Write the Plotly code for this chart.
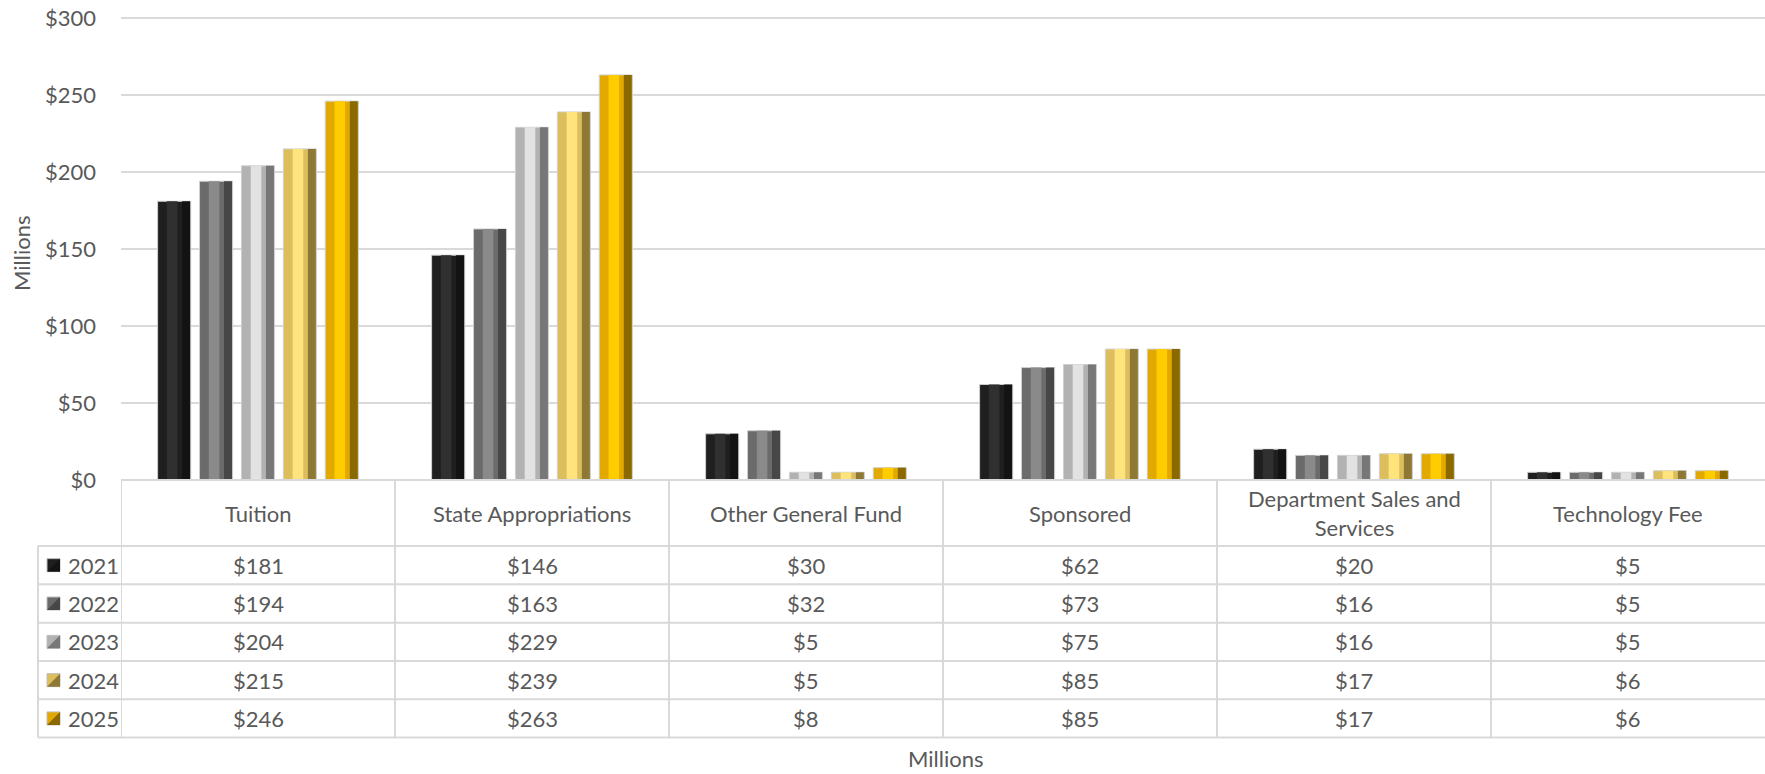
import plotly.graph_objects as go

# ---------------- data ----------------
categories = ["Tuition", "State Appropriations", "Other General Fund",
              "Sponsored", "Department Sales and Services", "Technology Fee"]
header_labels = ["Tuition", "State Appropriations", "Other General Fund",
                 "Sponsored", "Department Sales and<br>Services", "Technology Fee"]
years = ["2021", "2022", "2023", "2024", "2025"]
v2021 = [181, 146, 30, 62, 20, 5]
v2022 = [194, 163, 32, 73, 16, 5]
v2023 = [204, 229, 5, 75, 16, 5]
v2024 = [215, 239, 5, 85, 17, 6]
v2025 = [246, 263, 8, 85, 17, 6]
series = [v2021, v2022, v2023, v2024, v2025]
y_ticks = [0, 50, 100, 150, 200, 250, 300]

# ---------------- style ----------------
base_col = ["#1f1f1f", "#6b6b6b", "#b2b2b2", "#dcbf5c", "#e2a900"]
hi_col = ["#303030", "#8a8a8a", "#e2e2e2", "#ffe47e", "#ffcc00"]
sh_col = ["#131313", "#474747", "#777777", "#8d7836", "#8a6a00"]
grid_col = "#d9d9d9"
txt_col = "#595959"
FONT = "Lato"
FS = 22

W_PX, H_PX = 1765, 774
L, R, T = 121, 0, 12
plot_bottom = 480
B = H_PX - plot_bottom
plot_w = W_PX - L - R
plot_h = H_PX - T - B
y_top = 300 * plot_h / (plot_h - 6)  # $300 gridline sits at y=18 px


def px(x):
    return (x - L) / plot_w


def py(y):
    return (plot_bottom - y) / plot_h


bargap = 0.235
groupgap = 0.21
n = len(years)
slot = (1 - bargap) / n
bw = slot * (1 - groupgap)

fig = go.Figure()
for i, (yr, vals) in enumerate(zip(years, series)):
    c = -0.5 * (1 - bargap) + (i + 0.5) * slot
    left = c - bw / 2
    fig.add_trace(go.Bar(x=categories, y=vals, name=yr, offset=left, width=bw,
                         marker=dict(color=base_col[i], line=dict(color="#cfcfcf", width=1)),
                         showlegend=False))
    fig.add_trace(go.Bar(x=categories, y=vals, offset=left + 0.28 * bw, width=0.32 * bw,
                         marker=dict(color=hi_col[i], line=dict(width=0)),
                         showlegend=False, hoverinfo="skip"))
    fig.add_trace(go.Bar(x=categories, y=vals, offset=left + 0.74 * bw, width=0.24 * bw,
                         marker=dict(color=sh_col[i], line=dict(width=0)),
                         showlegend=False, hoverinfo="skip"))

fig.update_layout(
    width=W_PX, height=H_PX,
    margin=dict(l=L, r=R, t=T, b=B),
    barmode="overlay",
    plot_bgcolor="white", paper_bgcolor="white",
    font=dict(family=FONT, size=FS, color=txt_col),
    xaxis=dict(showticklabels=False, showgrid=False, zeroline=False,
               range=[-0.5, len(categories) - 0.5], fixedrange=True),
    yaxis=dict(range=[0, y_top], tickvals=y_ticks,
               ticktext=[f"${v}" for v in y_ticks],
               showgrid=True, gridcolor=grid_col, gridwidth=2,
               zeroline=False, showline=False, ticks="",
               ticklabelstandoff=24, ticklabeloverflow="allow",
               tickfont=dict(family=FONT, size=FS, color=txt_col)),
)

# ---------------- data table ----------------
row_tops = [480, 546, 584.3, 622.7, 661, 699.3, 737.6]
shapes = []
line = dict(color=grid_col, width=2)
shapes.append(dict(type="line", xref="paper", yref="paper", x0=px(121), x1=1,
                   y0=py(row_tops[0]), y1=py(row_tops[0]), line=line))
for yv in row_tops[1:]:
    shapes.append(dict(type="line", xref="paper", yref="paper", x0=px(38), x1=1,
                       y0=py(yv), y1=py(yv), line=line))
shapes.append(dict(type="line", xref="paper", yref="paper", x0=px(38), x1=px(38),
                   y0=py(row_tops[1]), y1=py(row_tops[-1]), line=line))
for k in range(len(categories)):
    xk = k - 0.5
    shapes.append(dict(type="line", xref="x", yref="paper", x0=xk, x1=xk,
                       y0=py(row_tops[0]), y1=py(row_tops[-1]), line=line))

annotations = []
hdr_y = py((row_tops[0] + row_tops[1]) / 2)
for k, lab in enumerate(header_labels):
    annotations.append(dict(x=categories[k], y=hdr_y, xref="x", yref="paper",
                            text=lab, showarrow=False, xanchor="center", yanchor="middle",
                            font=dict(family=FONT, size=FS, color=txt_col)))
for i, (yr, vals) in enumerate(zip(years, series)):
    top, bot = row_tops[i + 1], row_tops[i + 2]
    yc = py((top + bot) / 2)
    for k, v in enumerate(vals):
        annotations.append(dict(x=categories[k], y=yc, xref="x", yref="paper",
                                text=f"${v}", showarrow=False, xanchor="center",
                                yanchor="middle",
                                font=dict(family=FONT, size=FS, color=txt_col)))
    annotations.append(dict(x=px(66), y=yc, xref="paper", yref="paper", text=yr,
                            showarrow=False, xanchor="left", yanchor="middle",
                            font=dict(family=FONT, size=FS, color=txt_col)))
    ymid = (top + bot) / 2
    x0, x1 = px(47), px(60)
    y0, y1 = py(ymid + 6.5), py(ymid - 6.5)
    shapes.append(dict(type="rect", xref="paper", yref="paper", x0=x0, x1=x1, y0=y0, y1=y1,
                       fillcolor=base_col[i], line=dict(color="#bdbdbd", width=1)))
    shapes.append(dict(type="path", xref="paper", yref="paper",
                       path=f"M {x1} {y1} L {x1} {y0} L {x0} {y0} Z",
                       fillcolor=sh_col[i], line=dict(width=0)))

annotations.append(dict(x=px(22), y=py(254), xref="paper", yref="paper", text="Millions",
                        textangle=-90, showarrow=False, xanchor="center", yanchor="middle",
                        font=dict(family=FONT, size=FS, color=txt_col)))
annotations.append(dict(x=px(945), y=py(758), xref="paper", yref="paper", text="Millions",
                        showarrow=False, xanchor="center", yanchor="middle",
                        font=dict(family=FONT, size=FS, color=txt_col)))

fig.update_layout(shapes=shapes, annotations=annotations)
fig.write_html("out.html", config={"displayModeBar": False},
               post_script="document.body.style.margin='0';document.body.style.overflow='hidden';")
